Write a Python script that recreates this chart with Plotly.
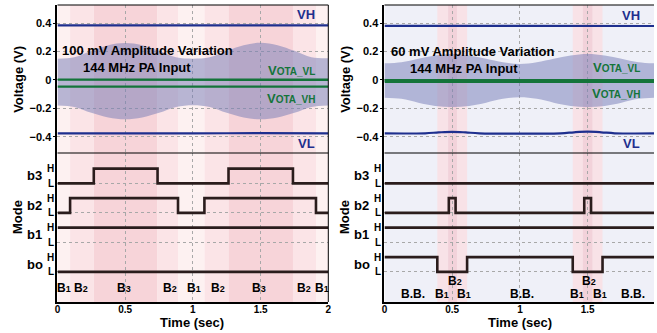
import plotly.graph_objects as go

W, H = 657, 333

# ---------------- data ----------------
t_env = [0, 0.125, 0.25, 0.375, 0.5, 0.625, 0.75, 0.875, 1.0,
         1.125, 1.25, 1.375, 1.5, 1.625, 1.75, 1.875, 2.0]
left_env_upper = [0.150, 0.160, 0.205, 0.245, 0.260, 0.245, 0.205, 0.160, 0.150,
                  0.160, 0.205, 0.245, 0.262, 0.245, 0.205, 0.160, 0.152]
left_env_lower = [-0.180, -0.190, -0.232, -0.265, -0.278, -0.265, -0.232, -0.190, -0.178,
                  -0.190, -0.232, -0.265, -0.278, -0.265, -0.232, -0.190, -0.180]
right_env_upper = [0.117, 0.125, 0.150, 0.172, 0.182, 0.172, 0.150, 0.125, 0.113,
                   0.125, 0.150, 0.172, 0.182, 0.172, 0.150, 0.125, 0.117]
right_env_lower = [-0.125, -0.133, -0.160, -0.183, -0.190, -0.183, -0.160, -0.133, -0.122,
                   -0.133, -0.160, -0.183, -0.190, -0.183, -0.160, -0.133, -0.125]

t_flat = [0, 0.5, 1.0, 1.5, 2.0]
left_vh = [0.385, 0.384, 0.385, 0.386, 0.384]
left_vl = [-0.377, -0.376, -0.377, -0.375, -0.377]
left_vota_vl = [0.002, 0.001, 0.002, 0.002, 0.001]
left_vota_vh = [-0.047, -0.046, -0.047, -0.046, -0.047]
right_vh = [0.381, 0.382, 0.381, 0.382, 0.380]
right_vota_vl = [-0.004, -0.003, -0.004, -0.003, -0.004]
right_vota_vh = [-0.011, -0.010, -0.011, -0.010, -0.011]
t_rvl = [0, 0.3, 0.4, 0.5, 0.6, 0.7, 1.3, 1.4, 1.5, 1.6, 1.7, 2.0]
right_vl = [-0.377, -0.376, -0.370, -0.366, -0.370, -0.376,
            -0.376, -0.369, -0.365, -0.369, -0.376, -0.377]

channels = ["b3", "b2", "b1", "bo"]
# step traces: transition times and states (1 = H, 0 = L)
left_steps = {
    "b3": ([0, 0.268, 0.739, 1.263, 1.739, 2.0], [0, 1, 0, 1, 0, 0]),
    "b2": ([0, 0.093, 0.890, 1.085, 1.909, 2.0], [0, 1, 0, 1, 0, 0]),
    "b1": ([0, 2.0], [1, 1]),
    "bo": ([0, 2.0], [0, 0]),
}
right_steps = {
    "b3": ([0, 2.0], [0, 0]),
    "b2": ([0, 0.475, 0.525, 1.475, 1.525, 2.0], [0, 1, 0, 1, 0, 0]),
    "b1": ([0, 2.0], [1, 1]),
    "bo": ([0, 0.390, 0.610, 1.390, 1.610, 2.0], [1, 0, 1, 0, 1, 1]),
}

left_band_edges = [0, 0.093, 0.268, 0.739, 0.890, 1.085, 1.263, 1.739, 1.909, 2.0]
left_band_modes = ["B1", "B2", "B3", "B2", "B1", "B2", "B3", "B2", "B1"]
right_bands = [(0.390, 0.610, "B1"), (0.470, 0.535, "B2"),
               (1.390, 1.610, "B1"), (1.465, 1.535, "B2")]

left_mode_labels = [(0.05, "B", "1"), (0.17, "B", "2"), (0.49, "B", "3"), (0.83, "B", "2"),
                    (1.006, "B", "1"), (1.185, "B", "2"), (1.49, "B", "3"), (1.82, "B", "2"),
                    (1.955, "B", "1")]
right_mode_labels_low = [(0.21, "B.B.", ""), (0.425, "B", "1"), (0.59, "B", "1"),
                         (1.017, "B.B.", ""), (1.424, "B", "1"), (1.59, "B", "1"),
                         (1.836, "B.B.", "")]
right_mode_labels_high = [(0.518, "B", "2"), (1.507, "B", "2")]

volt_ticks = [-0.4, -0.2, 0, 0.2, 0.4]
time_ticks = [0, 0.5, 1, 1.5, 2]

# ---------------- styling ----------------
FONT = "Liberation Sans, Arial, sans-serif"
BLUE = "#1e2f8e"
GREEN = "#14743a"
STEP = "#2a1c1c"
ENV = "rgba(115,122,182,0.50)"
GRID = "#a8a8a8"
band_col_left = {"B1": "#fdf1f1", "B2": "#fbe4e7", "B3": "#f7d4d9"}
band_col_right = {"B1": "#f8e2e7", "B2": "#f2d2da"}
RIGHT_BG = "#eff0f8"

px_x = lambda p: p / W
px_y = lambda p: 1 - p / H

left_dom = [px_x(55), px_x(328.3)]
right_dom = [px_x(385), 1.0]
volt_dom = [px_y(153), px_y(5)]
mode_dom = [px_y(302), px_y(153)]
VRANGE = [-0.515, 0.528]
MRANGE = [-1.02, 4.03]

base = {"b3": 3, "b2": 2, "b1": 1, "bo": 0}
HSTEP = 0.5

fig = go.Figure()

def add_panel(xm, ym, xv, yv, env_u, env_l, vh, vl, t_vl, vota_vl, vota_vh, steps, green_w):
    fig.add_trace(go.Scatter(x=t_env, y=env_l, mode="lines", line=dict(width=0, shape="spline"),
                             xaxis=xv, yaxis=yv, hoverinfo="skip"))
    fig.add_trace(go.Scatter(x=t_env, y=env_u, mode="lines", line=dict(width=0, shape="spline"),
                             fill="tonexty", fillcolor=ENV, xaxis=xv, yaxis=yv, hoverinfo="skip"))
    fig.add_trace(go.Scatter(x=t_flat, y=vh, mode="lines", line=dict(color=BLUE, width=2.2),
                             xaxis=xv, yaxis=yv))
    fig.add_trace(go.Scatter(x=t_vl, y=vl, mode="lines", line=dict(color=BLUE, width=2.2, shape="spline"),
                             xaxis=xv, yaxis=yv))
    fig.add_trace(go.Scatter(x=t_flat, y=vota_vl, mode="lines", line=dict(color=GREEN, width=green_w),
                             xaxis=xv, yaxis=yv))
    fig.add_trace(go.Scatter(x=t_flat, y=vota_vh, mode="lines", line=dict(color=GREEN, width=green_w),
                             xaxis=xv, yaxis=yv))
    for ch in channels:
        ts, st = steps[ch]
        ys = [base[ch] + HSTEP * s for s in st]
        fig.add_trace(go.Scatter(x=ts, y=ys, mode="lines", line=dict(color=STEP, width=2.6, shape="hv"),
                                 xaxis=xm, yaxis=ym))

add_panel("x", "y", "x2", "y2", left_env_upper, left_env_lower, left_vh, left_vl, t_flat,
          left_vota_vl, left_vota_vh, left_steps, 2.4)
add_panel("x3", "y3", "x4", "y4", right_env_upper, right_env_lower, right_vh, right_vl, t_rvl,
          right_vota_vl, right_vota_vh, right_steps, 3.0)

shapes = []
for i, m in enumerate(left_band_modes):
    shapes.append(dict(type="rect", xref="x", yref="paper", x0=left_band_edges[i], x1=left_band_edges[i + 1],
                       y0=mode_dom[0], y1=volt_dom[1], fillcolor=band_col_left[m], line=dict(width=0),
                       layer="below"))
shapes.append(dict(type="rect", xref="x3", yref="paper", x0=0, x1=2.0, y0=mode_dom[0], y1=volt_dom[1],
                   fillcolor=RIGHT_BG, line=dict(width=0), layer="below"))
for x0, x1, m in right_bands:
    shapes.append(dict(type="rect", xref="x3", yref="paper", x0=x0, x1=x1, y0=mode_dom[0], y1=volt_dom[1],
                       fillcolor=band_col_right[m], line=dict(width=0), layer="below"))
# thin frame lines: top, separator, right edge
for xr in ("x", "x3"):
    for yy in (mode_dom[1], volt_dom[1]):
        shapes.append(dict(type="line", xref=xr + " domain", yref="paper", x0=0, x1=1, y0=yy, y1=yy,
                           line=dict(color="black", width=1.2)))
shapes.append(dict(type="line", xref="x domain", yref="paper", x0=1, x1=1, y0=mode_dom[0], y1=volt_dom[1],
                   line=dict(color="black", width=1)))

ann = []
def txt(x, y, s, xref, yref, size=13, color="black", xanchor="center", yanchor="middle", angle=0):
    ann.append(dict(x=x, y=y, xref=xref, yref=yref, text=s, showarrow=False,
                    font=dict(family=FONT, size=size, color=color, weight="bold"),
                    xanchor=xanchor, yanchor=yanchor, textangle=angle))

def vota(sub):
    return "V<span style='font-size:10px'>OTA_" + sub + "</span>"

txt(0.02, 0.21, "100 mV Amplitude Variation", "x2", "y2", xanchor="left")
txt(0.59, 0.091, "144 MHz PA Input", "x2", "y2")
txt(1.836, 0.463, "VH", "x2", "y2", color=BLUE)
txt(1.84, -0.449, "VL", "x2", "y2", color=BLUE)
txt(1.727, 0.069, vota("VL"), "x2", "y2", color=GREEN)
txt(1.727, -0.13, vota("VH"), "x2", "y2", color=GREEN)
txt(0.031, 0.197, "60 mV Amplitude Variation", "x4", "y4", xanchor="left")
txt(0.59, 0.08, "144 MHz PA Input", "x4", "y4")
txt(1.82, 0.456, "VH", "x4", "y4", color=BLUE)
txt(1.827, -0.451, "VL", "x4", "y4", color=BLUE)
txt(1.71, 0.086, vota("VL"), "x4", "y4", color=GREEN)
txt(1.71, -0.096, vota("VH"), "x4", "y4", color=GREEN)

def blabel(b, s):
    if s:
        return b + "<span style='font-size:9px'>" + s + "</span>"
    return b

for x, b, s in left_mode_labels:
    txt(x, -0.55, blabel(b, s), "x", "y", size=12)
for x, b, s in right_mode_labels_low:
    txt(x, -0.76, blabel(b, s), "x3", "y3", size=12)
for x, b, s in right_mode_labels_high:
    txt(x, -0.31, blabel(b, s), "x3", "y3", size=12)

for off, yr in ((0, "y"), (330, "y3")):
    for ch in channels:
        txt(px_x(32 + off), base[ch] + 0.26, ch, "paper", yr, size=13)
        txt(px_x(53.5 + off), base[ch] + HSTEP, "H", "paper", yr, size=10, xanchor="right")
        txt(px_x(53.5 + off), base[ch], "L", "paper", yr, size=10, xanchor="right")
    txt(px_x(15 + off), px_y(79), "Voltage (V)", "paper", "paper", angle=-90)
    txt(px_x(14.5 + off), px_y(216.7), "Mode", "paper", "paper", angle=-90)
txt(px_x(190.5), px_y(322.5), "Time (sec)", "paper", "paper")
txt(px_x(521.7), px_y(322.5), "Time (sec)", "paper", "paper")

tickfont = dict(family=FONT, size=10, color="black", weight="bold")
common_x = dict(range=[0, 2], tickvals=time_ticks, showgrid=True, gridcolor=GRID, griddash="dot",
                gridwidth=1, zeroline=False, showline=True, linecolor="black", mirror=False,
                ticks="", tickfont=tickfont)
xmode_l = dict(common_x, domain=left_dom, anchor="y", linewidth=2, ticklabelstandoff=-3)
xmode_r = dict(common_x, domain=right_dom, anchor="y3", range=[0, 1.99], linewidth=2, ticklabelstandoff=-3)
xvolt_l = dict(common_x, domain=left_dom, anchor="y2", matches="x", showticklabels=False, showline=False)
xvolt_r = dict(common_x, domain=right_dom, anchor="y4", range=[0, 1.99], showticklabels=False, showline=False)

L_levels = [base[c] for c in channels]
ymode = dict(range=MRANGE, tickvals=L_levels, showticklabels=False, showgrid=True, gridcolor=GRID,
             griddash="dot", zeroline=False, showline=True, linecolor="black", linewidth=2, domain=mode_dom,
             ticks="")
yvolt = dict(range=VRANGE, tickvals=volt_ticks, ticktext=["\u22120.4", "\u22120.2", "0", "0.2", "0.4"],
             showgrid=True, gridcolor=GRID, griddash="dot", zeroline=False, showline=True,
             linecolor="black", linewidth=2, domain=volt_dom, ticks="outside", ticklen=2,
             tickcolor="black", tickfont=dict(family=FONT, size=11, color="black", weight="bold"))

fig.update_layout(
    width=W, height=H, margin=dict(l=0, r=0, t=0, b=0),
    paper_bgcolor="white", plot_bgcolor="white", showlegend=False,
    xaxis=xmode_l, xaxis2=xvolt_l, xaxis3=xmode_r, xaxis4=xvolt_r,
    yaxis=dict(ymode, anchor="x"), yaxis2=dict(yvolt, anchor="x2"),
    yaxis3=dict(ymode, anchor="x3"), yaxis4=dict(yvolt, anchor="x4"),
    shapes=shapes, annotations=ann,
)

fig.write_html("out.html", config={"displayModeBar": False},
               post_script="document.body.style.margin='0';document.body.style.overflow='hidden';")
